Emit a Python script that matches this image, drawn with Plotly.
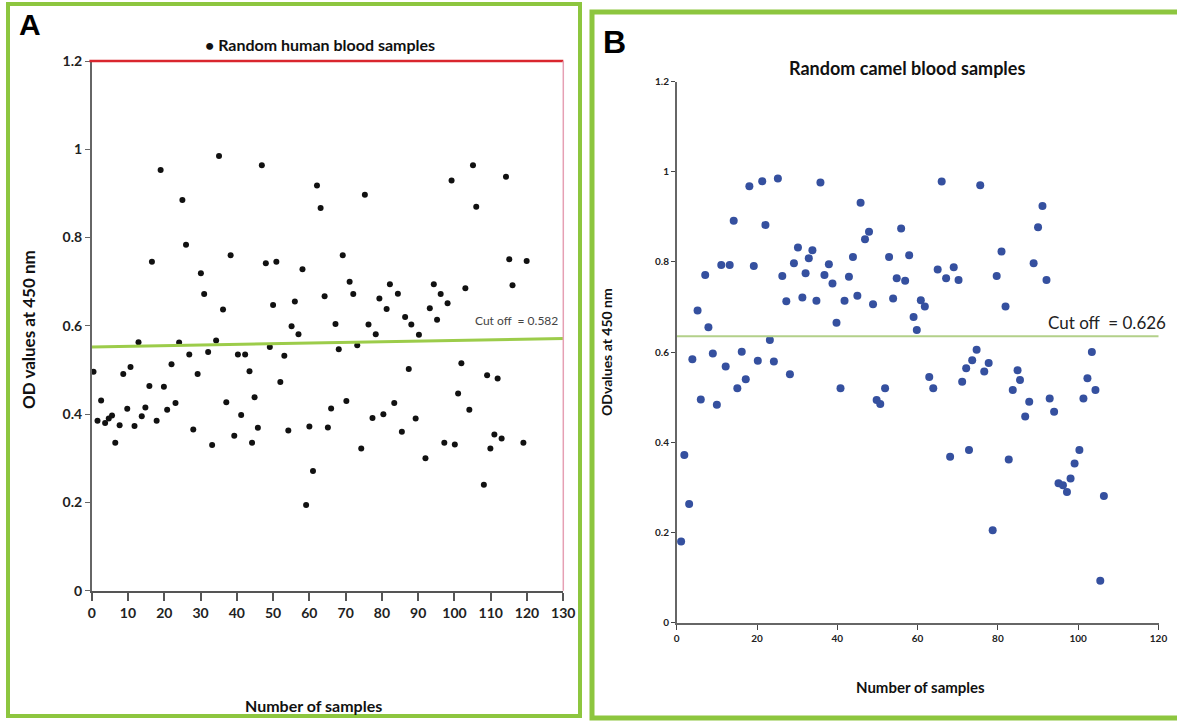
import plotly.graph_objects as go

W, H = 1177, 722

# ---------------- Panel A: human samples ----------------
human_x = [0.5,1.6,2.6,3.7,4.7,5.6,6.5,7.7,8.7,9.8,10.7,11.8,12.9,13.8,14.8,15.9,16.6,17.9,19.0,19.9,
           20.8,22.0,23.1,24.1,25.0,26.0,26.9,28.0,29.2,30.1,31.0,32.1,33.2,34.3,35.1,36.2,37.1,38.3,39.3,40.3,
           41.2,42.3,43.5,44.2,
           44.9,45.8,46.9,48.0,49.1,50.0,50.9,52.0,53.1,54.2,55.1,56.0,57.0,58.1,59.1,60.0,61.0,62.1,63.1,64.2,
           65.1,66.0,67.2,68.1,69.2,70.2,71.1,72.1,73.2,74.3,75.3,76.3,77.4,78.3,79.3,80.4,81.3,82.2,83.4,84.4,
           85.5,86.4,87.4,88.1,
           89.3,90.2,92.0,93.2,94.3,95.2,96.2,97.2,98.1,99.2,100.1,101.0,101.9,103.0,104.1,105.1,106.0,108.1,109.0,109.9,
           111.0,111.9,113.0,114.2,115.1,116.0,119.0,119.9]
human_od = [0.496,0.385,0.431,0.380,0.390,0.397,0.335,0.375,0.491,0.412,0.507,0.373,0.563,0.395,0.415,0.464,0.745,0.385,0.953,0.462,
            0.410,0.513,0.425,0.562,0.885,0.784,0.535,0.365,0.491,0.719,0.672,0.541,0.330,0.567,0.985,0.637,0.427,0.760,0.351,0.535,
            0.398,0.535,0.497,0.335,
            0.438,0.369,0.964,0.742,0.552,0.647,0.745,0.473,0.532,0.363,0.599,0.655,0.581,0.728,0.194,0.372,0.271,0.918,0.867,0.667,
            0.370,0.413,0.604,0.547,0.760,0.430,0.700,0.672,0.556,0.322,0.897,0.603,0.391,0.581,0.662,0.400,0.638,0.694,0.425,0.673,
            0.360,0.620,0.502,0.603,
            0.390,0.580,0.300,0.640,0.694,0.614,0.672,0.335,0.651,0.929,0.331,0.447,0.515,0.685,0.410,0.964,0.870,0.240,0.488,0.322,
            0.354,0.481,0.345,0.938,0.751,0.692,0.335,0.747]
human_cut_x = [0, 133]
human_cut_y = [0.552, 0.572]
human_xticks = list(range(0, 131, 10))
human_yticks = [0, 0.2, 0.4, 0.6, 0.8, 1, 1.2]

# ---------------- Panel B: camel samples ----------------
camel_x = [1.1,1.9,3.1,3.9,5.2,6.0,7.1,7.9,9.0,10.0,11.1,12.2,13.2,14.2,15.1,16.2,17.2,18.1,19.2,20.2,
           21.3,22.1,23.2,24.2,25.2,26.3,27.3,28.2,29.2,30.2,31.3,32.1,32.9,
           33.8,34.8,35.8,36.8,37.9,38.8,39.8,40.8,41.8,42.9,43.9,45.0,45.8,46.9,47.9,48.9,49.8,50.7,51.9,52.9,
           53.9,54.8,55.9,56.9,57.9,59.0,59.8,60.8,61.8,62.9,63.9,65.0,66.0,67.1,68.1,69.0,70.2,71.1,72.1,72.8,
           73.6,74.7,75.6,76.6,77.7,78.7,79.7,80.9,81.9,82.7,83.7,84.9,85.5,86.8,87.8,88.9,90.0,91.1,92.1,92.9,
           94.0,95.1,96.2,97.2,98.1,99.1,100.3,101.3,102.3,103.4,104.3,105.5,106.4]
camel_od = [0.180,0.372,0.263,0.584,0.692,0.495,0.771,0.655,0.597,0.483,0.793,0.568,0.793,0.891,0.520,0.601,0.540,0.968,0.791,0.581,
            0.979,0.882,0.627,0.579,0.985,0.769,0.713,0.551,0.797,0.832,0.721,0.775,0.808,
            0.826,0.714,0.976,0.771,0.795,0.752,0.665,0.520,0.714,0.767,0.811,0.725,0.931,0.850,0.867,0.706,0.494,0.485,0.520,0.811,
            0.719,0.764,0.874,0.758,0.815,0.678,0.649,0.715,0.701,0.545,0.520,0.783,0.978,0.764,0.368,0.788,0.760,0.534,0.564,0.383,
            0.582,0.605,0.970,0.557,0.576,0.205,0.769,0.823,0.701,0.362,0.516,0.560,0.538,0.457,0.490,0.797,0.877,0.924,0.760,0.497,
            0.468,0.309,0.305,0.290,0.320,0.353,0.383,0.497,0.542,0.600,0.516,0.093,0.281]
camel_cut_x = [0, 125]
camel_cut_y = [0.635, 0.635]
camel_xticks = list(range(0, 121, 20))
camel_yticks = [0, 0.2, 0.4, 0.6, 0.8, 1, 1.2]

FONT = "Lato"
GREEN = "#8dc63f"

fig = go.Figure()

fig.add_trace(go.Scatter(x=human_x, y=human_od, mode="markers", xaxis="x", yaxis="y",
                         marker=dict(color="#111111", size=6), showlegend=False))
fig.add_trace(go.Scatter(x=human_cut_x, y=human_cut_y, mode="lines", xaxis="x", yaxis="y",
                         line=dict(color="#9ccc4a", width=3), cliponaxis=False, showlegend=False))

fig.add_trace(go.Scatter(x=camel_x, y=camel_od, mode="markers", xaxis="x2", yaxis="y2",
                         marker=dict(color="#35509f", size=8), showlegend=False))
fig.add_trace(go.Scatter(x=camel_cut_x, y=camel_cut_y, mode="lines", xaxis="x2", yaxis="y2",
                         line=dict(color="#b3d08a", width=2), cliponaxis=False, showlegend=False))

def px_x(p):
    return p / W

def px_y(p):
    return 1 - p / H

axis_common = dict(showgrid=False, zeroline=False, showline=True, ticks="outside", automargin=False)

fig.update_layout(
    width=W, height=H,
    margin=dict(l=0, r=0, t=0, b=0, autoexpand=False),
    paper_bgcolor="white", plot_bgcolor="white",
    xaxis=dict(domain=[px_x(91.7), px_x(563.3)], range=[0, 130], anchor="y",
               tickvals=human_xticks, linecolor="#555555", linewidth=2, ticklen=8, tickwidth=2,
               tickcolor="#555555",
               tickfont=dict(family=FONT, size=14, color="#222222", weight="bold"), **axis_common),
    yaxis=dict(domain=[px_y(590.7), px_y(61)], range=[0, 1.2], anchor="x",
               tickvals=human_yticks, linecolor="#666666", linewidth=1.5, ticklen=5, tickcolor="#666666",
               tickfont=dict(family=FONT, size=14, color="#222222", weight="bold"), **axis_common),
    xaxis2=dict(domain=[px_x(676.7), px_x(1158.5)], range=[0, 120], anchor="y2",
                tickvals=camel_xticks, linecolor="#666666", linewidth=2, ticklen=5, tickcolor="#444444",
                tickfont=dict(family=FONT, size=10, color="#222222", weight="bold"), **axis_common),
    yaxis2=dict(domain=[px_y(622.7), px_y(81.5)], range=[0, 1.2], anchor="x2",
                tickvals=camel_yticks, linecolor="#666666", linewidth=1.5, ticklen=4, tickcolor="#444444",
                tickfont=dict(family=FONT, size=10, color="#222222", weight="bold"), **axis_common),
)

shapes = [
    # panel frames
    dict(type="rect", xref="paper", yref="paper", x0=px_x(8), x1=px_x(580), y0=px_y(716), y1=px_y(4),
         line=dict(color=GREEN, width=4), fillcolor="rgba(0,0,0,0)", layer="below"),
    dict(type="rect", xref="paper", yref="paper", x0=px_x(592), x1=px_x(1185), y0=px_y(718), y1=px_y(12),
         line=dict(color=GREEN, width=5), fillcolor="rgba(0,0,0,0)", layer="below"),
    # panel A top red border & right pink border
    dict(type="line", xref="x domain", yref="y domain", x0=-0.005, x1=1, y0=1, y1=1,
         line=dict(color="#d9262e", width=2.5)),
    dict(type="line", xref="x domain", yref="y domain", x0=1, x1=1, y0=0, y1=1,
         line=dict(color="#e6a0b4", width=1.5)),
]
fig.update_layout(shapes=shapes)

ann = [
    dict(text="<b>A</b>", x=px_x(30), y=px_y(24), font=dict(family="Liberation Sans", size=30, color="#000")),
    dict(text="• Random human blood samples", x=px_x(320), y=px_y(45),
         font=dict(family=FONT, size=16, color="#111", weight="bold")),
    dict(text="OD values at 450 nm", x=px_x(28), y=px_y(330), textangle=-90,
         font=dict(family=FONT, size=17, color="#111", weight="bold")),
    dict(text="Number of samples", x=px_x(313), y=px_y(705),
         font=dict(family=FONT, size=16, color="#111", weight="bold")),
    dict(text="Cut off  = 0.582", x=px_x(516), y=px_y(320),
         font=dict(family=FONT, size=12, color="#444")),
    dict(text="<b>B</b>", x=px_x(614), y=px_y(42), font=dict(family="Liberation Sans", size=32, color="#000")),
    dict(text="Random camel blood samples", x=px_x(907), y=px_y(68),
         font=dict(family=FONT, size=18, color="#111", weight="bold")),
    dict(text="ODvalues at 450 nm", x=px_x(606), y=px_y(352), textangle=-90,
         font=dict(family=FONT, size=14, color="#111", weight="bold")),
    dict(text="Number of samples", x=px_x(920), y=px_y(687),
         font=dict(family=FONT, size=15, color="#111", weight="bold")),
    dict(text="Cut off  = 0.626", x=px_x(1107), y=px_y(322),
         font=dict(family=FONT, size=17, color="#222")),
]
for a in ann:
    a.update(xref="paper", yref="paper", showarrow=False, xanchor="center", yanchor="middle")
fig.update_layout(annotations=ann)

fig.write_html(
    "out.html",
    config={"displayModeBar": False},
    post_script="document.body.style.margin='0';document.body.style.overflow='hidden';",
)
